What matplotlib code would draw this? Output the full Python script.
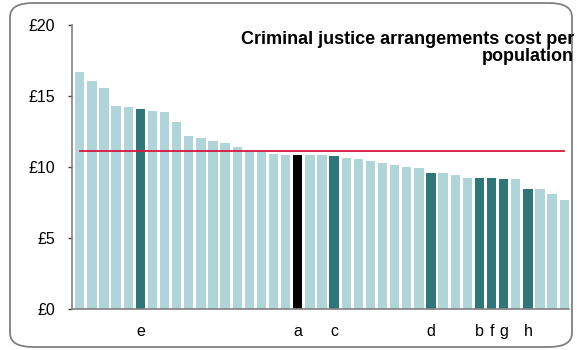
import matplotlib
matplotlib.use('Agg')
import matplotlib.pyplot as plt
from matplotlib.patches import FancyBboxPatch
import numpy as np

plt.rcParams['font.family'] = ['Liberation Sans', 'DejaVu Sans']

# cost per population (GBP), sorted high to low
values = [16.67, 16.08, 15.54, 14.27, 14.23, 14.08, 13.92, 13.87, 13.17, 12.18,
          12.02, 11.83, 11.67, 11.43, 11.15, 11.12, 10.92, 10.85, 10.85, 10.82,
          10.82, 10.77, 10.63, 10.54, 10.45, 10.28, 10.14, 10.00, 9.95, 9.55,
          9.55, 9.46, 9.23, 9.23, 9.23, 9.18, 9.13, 8.47, 8.43, 8.12, 7.70]
# highlighted bars: index -> label
highlight_idx = [5, 18, 21, 29, 33, 34, 35, 37]
highlight_lbl = ['e', 'a', 'c', 'd', 'b', 'f', 'g', 'h']
selected_idx = 18  # 'a' drawn in black
average = 11.15

light = '#afd5d8'
dark = '#2e7677'

x = np.arange(len(values))
colors = [light] * len(values)
for i in highlight_idx:
    colors[i] = dark
colors[selected_idx] = 'black'

fig = plt.figure(figsize=(5.77, 3.5), dpi=100)
ax = fig.add_axes([0.1248, 0.1171, 0.8615, 0.8115])

ax.bar(x, values, width=0.77, color=colors, edgecolor='none')
ax.plot(x, [average] * len(x), color='#d6163e', linewidth=1.3)

ax.set_ylim(0, 20)
ax.set_xlim(-0.64, 40.4)
ax.set_yticks([0, 5, 10, 15, 20])
ax.set_yticklabels(['£0', '£5', '£10', '£15', '£20'], fontsize=11.5)
ax.set_xticks(highlight_idx)
ax.set_xticklabels(highlight_lbl, fontsize=11.5)
ax.tick_params(axis='x', length=0, pad=11)
ax.tick_params(axis='y', length=3, width=1, color='#404040', pad=9)

for s in ['top', 'right']:
    ax.spines[s].set_visible(False)
for s in ['left', 'bottom']:
    ax.spines[s].set_color('#808080')
    ax.spines[s].set_linewidth(1.2)

fig.text(0.995, 0.912, 'Criminal justice arrangements cost per\npopulation',
         ha='right', va='top', fontsize=13, fontweight='bold',
         linespacing=1.05)

# rounded frame round the whole chart
frame = FancyBboxPatch((10 / 577, 3 / 350), 562 / 577, 344 / 350,
                       boxstyle='round,pad=0,rounding_size=0.04',
                       transform=fig.transFigure, fill=False,
                       edgecolor='#808080', linewidth=1.3, zorder=-1)
fig.patches.append(frame)

fig.savefig('out.png', dpi=100)
